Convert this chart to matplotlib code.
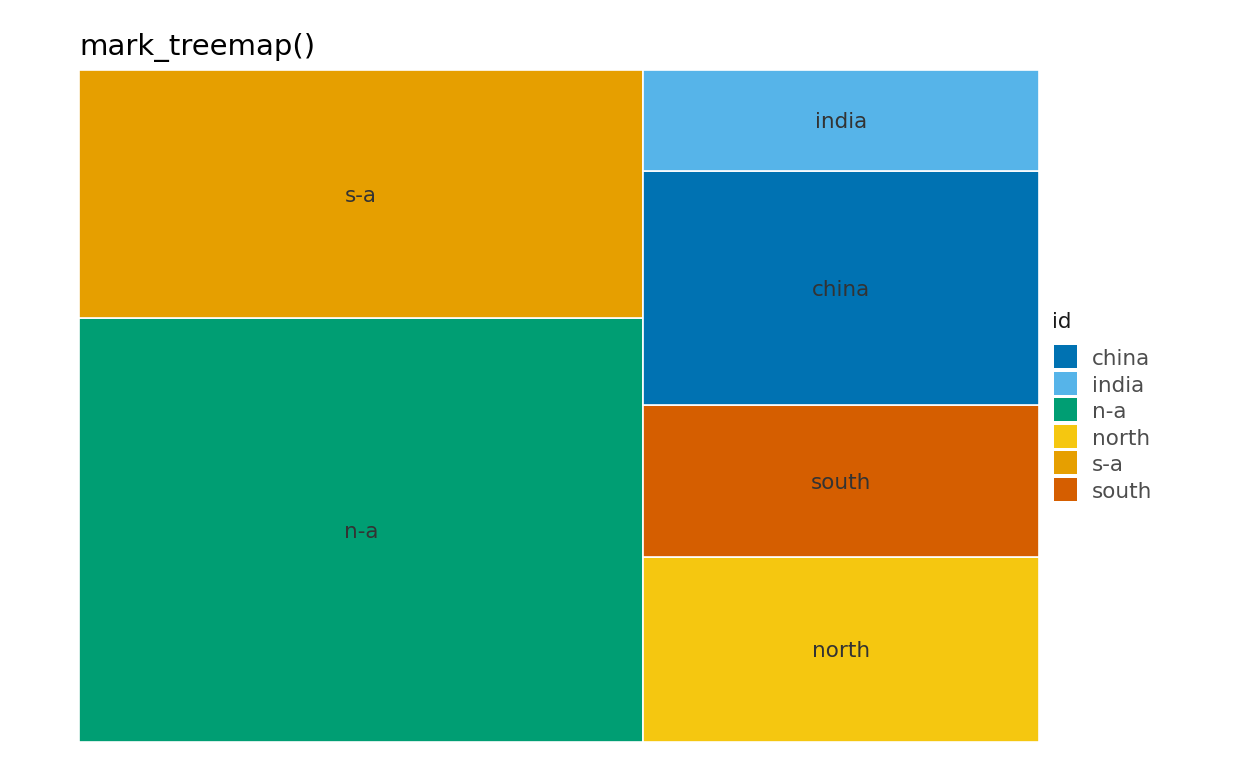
import matplotlib
matplotlib.use("Agg")
import matplotlib.pyplot as plt
from matplotlib.patches import Rectangle

# Data
ids = ['n-a', 's-a', 'china', 'north', 'south', 'india']
values = [37.1, 21.7, 14.4, 11.4, 9.3, 6.2]
# treemap columns (bottom to top)
columns = [['n-a', 's-a'], ['north', 'south', 'china', 'india']]
legend_order = ['china', 'india', 'n-a', 'north', 's-a', 'south']
palette = {'china': '#0072B2', 'india': '#56B4E9', 'n-a': '#009E73',
           'north': '#F5C710', 's-a': '#E69F00', 'south': '#D55E00'}

W, H, DPI = 1248, 771, 100
fig = plt.figure(figsize=(W / DPI, H / DPI), dpi=DPI)
ax = fig.add_axes([79 / W, 1 - 742 / H, (1039 - 79) / W, (742 - 70) / H])
ax.set_xlim(0, 1)
ax.set_ylim(0, 1)
ax.axis('off')

val = dict(zip(ids, values))
total = sum(values)
x0 = 0.0
for col in columns:
    csum = sum(val[c] for c in col)
    w = csum / total
    y0 = 0.0
    for c in col:
        h = val[c] / csum
        ax.add_patch(Rectangle((x0, y0), w, h, facecolor=palette[c],
                               edgecolor='white', linewidth=1.2))
        ax.text(x0 + w / 2, y0 + h / 2, c, ha='center', va='center_baseline',
                fontsize=15.5, color='#333333')
        y0 += h
    x0 += w

fig.text(79 / W, 1 - 55 / H, 'mark_treemap()', fontsize=21, color='black',
         ha='left', va='baseline')

# Legend
fig.text(1052 / W, 1 - 328 / H, 'id', fontsize=15.5, color='#1a1a1a',
         ha='left', va='baseline')
pitch = 26.6
for i, c in enumerate(legend_order):
    top = 345 + i * pitch
    fig.add_artist(Rectangle((1054 / W, 1 - (top + 23) / H), 23 / W, 23 / H,
                             facecolor=palette[c], edgecolor='none',
                             transform=fig.transFigure))
    fig.text(1092 / W, 1 - (top + 20) / H, c, fontsize=15.5, color='#4d4d4d',
             ha='left', va='baseline')

fig.savefig('out.png', dpi=DPI, facecolor='white')
